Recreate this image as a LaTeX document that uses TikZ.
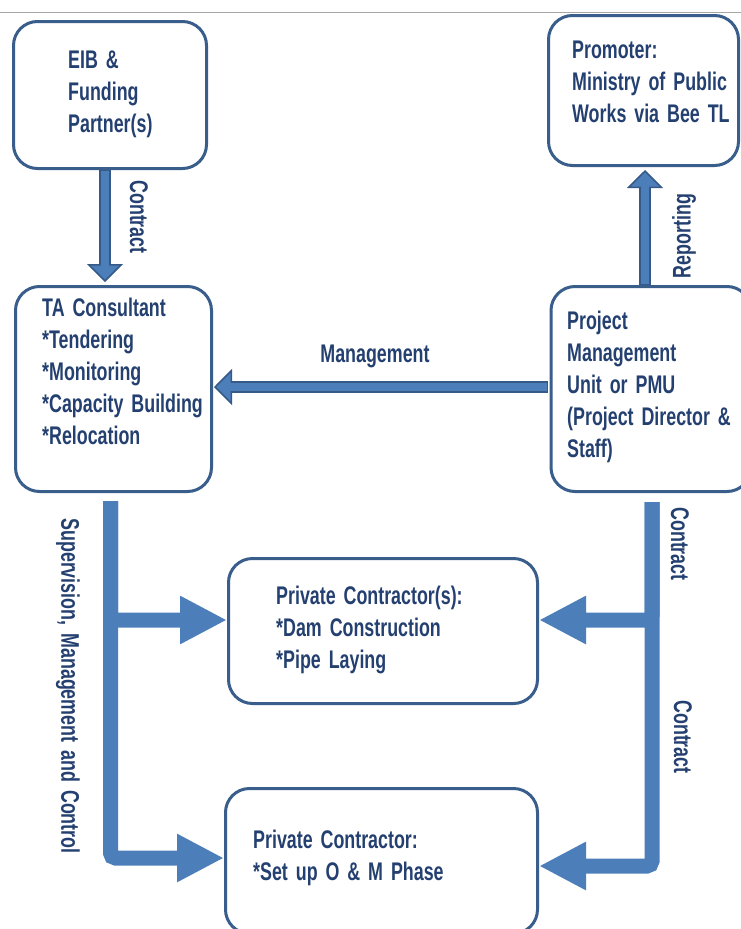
\documentclass[tikz,border=0pt]{standalone}
\usepackage{fontspec}
\usepackage{xcolor}
\usepackage{tikz}
\usetikzlibrary{arrows.meta,positioning,calc}

\newfontfamily\agency[FakeStretch=0.7,WordSpace=1.6]{Liberation Sans}

\definecolor{textblue}{RGB}{36,64,112}
\definecolor{boxblue}{RGB}{58,94,140}
\definecolor{arrowblue}{RGB}{76,126,186}
\definecolor{arrowdark}{RGB}{54,90,136}

\begin{document}
\begin{tikzpicture}[
    x=1pt, y=-1pt,
    boxnode/.style={rectangle, draw=boxblue, line width=3pt, rounded corners=24pt, inner sep=0pt, fill=white},
    textnode/.style={anchor=west, align=left, inner sep=0pt, text=textblue, font={\agency\bfseries\fontsize{25.5}{32}\selectfont}},
    tag/.style={inner sep=0pt, text=textblue, font={\agency\bfseries\fontsize{25.5}{28}\selectfont}},
    outlinearrow/.style={line width=12pt, draw=arrowdark, -{Triangle[length=18pt, width=36pt, fill=arrowblue, line width=1.5pt]}},
    innershaft/.style={line width=8pt, draw=arrowblue, shorten <=1pt},
    fatarrow/.style={line width=15pt, draw=arrowblue, rounded corners=5pt, -{Triangle[length=47pt, width=45pt]}}
]

\useasboundingbox (0,0) rectangle (741,929);
\clip (0,0) rectangle (741,929);
\fill[white] (0,0) rectangle (741,929);
\draw[gray!70, line width=1pt] (0,12) -- (741,12);

% Boxes
\node[boxnode, minimum width=193pt, minimum height=147pt] (eib) at (110,95) {};
\node[boxnode, minimum width=190pt, minimum height=150pt] (prom) at (643.5,90.5) {};
\node[boxnode, minimum width=196pt, minimum height=205pt] (ta) at (113.5,389) {};
\node[boxnode, minimum width=200pt, minimum height=205pt] (pmu) at (651,389) {};
\node[boxnode, minimum width=309pt, minimum height=145pt] (pcone) at (383,631) {};
\node[boxnode, minimum width=312pt, minimum height=145pt] (pctwo) at (381.5,861) {};

% Box texts
\node[textnode] (eibtext) at (68,94) {EIB \&\\Funding\\Partner(s)};
\node[textnode] (promtext) at (572,81.5) {Promoter:\\Ministry of Public\\Works via Bee TL};
\node[textnode] (tatext) at (42,371) {TA Consultant\\*Tendering\\*Monitoring\\*Capacity Building\\*Relocation};
\node[textnode] (pmutext) at (567,387) {Project\\Management\\Unit or PMU\\(Project Director \&\\Staff)};
\node[textnode] (pconetext) at (276,630) {Private Contractor(s):\\*Dam Construction\\*Pipe Laying};
\node[textnode] (pctwotext) at (253,857.5) {Private Contractor:\\*Set up O \& M Phase};

% Upper arrows
\draw[outlinearrow, shorten >=3pt] ([xshift=-5pt]eib.south) -- ([xshift=-5pt]eib.south |- ta.north);
\draw[innershaft, shorten >=19pt] ([xshift=-5pt]eib.south) -- ([xshift=-5pt]eib.south |- ta.north);
\draw[outlinearrow, shorten >=3pt] ([xshift=-6pt]pmu.north) -- ([xshift=-6pt]pmu.north |- prom.south);
\draw[innershaft, shorten >=19pt] ([xshift=-6pt]pmu.north) -- ([xshift=-6pt]pmu.north |- prom.south);
\draw[outlinearrow, shorten >=1pt] ([yshift=2pt,xshift=-2pt]pmu.west) -- ([yshift=2pt]ta.east);
\draw[innershaft, shorten >=17pt] ([yshift=2pt,xshift=-2pt]pmu.west) -- ([yshift=2pt]ta.east);

% Lower connectors
\coordinate (ltop) at ([xshift=-3pt,yshift=-8pt]ta.south);
\coordinate (rtop) at ([xshift=1pt,yshift=-9pt]pmu.south);
\draw[fatarrow] (ltop) |- ([yshift=11pt]pcone.west);
\draw[fatarrow] (ltop) |- ([yshift=3pt]pctwo.west);
\draw[fatarrow] (rtop) |- ([yshift=11pt]pcone.east);
\draw[fatarrow] (rtop) |- ([yshift=-5pt]pctwo.east);

% Labels
\node[tag, rotate=-90] (contractone) at (139,217) {Contract};
\node[tag, rotate=90] (reporting) at (684,236) {Reporting};
\node[tag] (management) at (375,356) {Management};
\node[tag, rotate=-90] (supervision) at (68,686) {Supervision, Management and Control};
\node[tag, rotate=-90] (contracttwo) at (680,544) {Contract};
\node[tag, rotate=-90] (contractthree) at (683,737) {Contract};

\end{tikzpicture}
\end{document}
